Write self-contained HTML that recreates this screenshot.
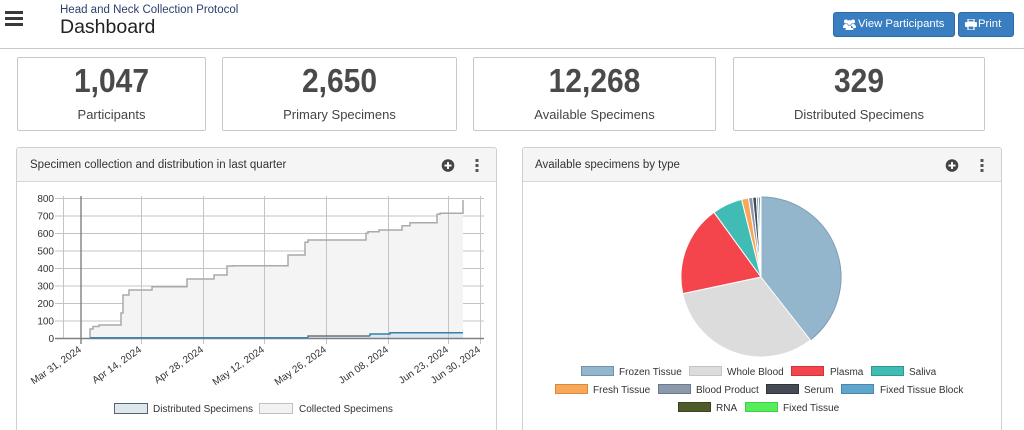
<!DOCTYPE html>
<html style="width:1024px;height:430px;overflow:hidden"><head><meta charset="utf-8"><style>
*{margin:0;padding:0;box-sizing:border-box}
body{width:1024px;height:430px;overflow:hidden;background:#fff;font-family:"Liberation Sans",Arial,sans-serif;position:relative;color:#333}
.abs{position:absolute}
.ham{position:absolute;left:5px;width:18px;height:3px;background:#3a3a3a}
.proto{left:60px;top:4px;font-size:11.5px;color:#2c3e6b;white-space:nowrap}
.dash{left:60px;top:16px;font-size:19.5px;color:#222;white-space:nowrap}
.hr{left:0;top:48px;width:1024px;height:1px;background:#c8c8c8}
.btn{position:absolute;top:12px;height:25px;background:#3a7ec2;border:1px solid #2d6aa6;border-radius:3px;color:#fff;font-size:11.3px;line-height:23px;white-space:nowrap}
.stat{position:absolute;top:57px;height:74px;border:1px solid #c9c9c9;border-radius:2px;text-align:center;background:#fff}
.stat .n{position:absolute;left:0;right:0;top:7px;font-size:30px;font-weight:bold;color:#4a4a4a;line-height:34px;transform:scaleY(1.12)}
.stat .l{position:absolute;left:0;right:0;top:49px;font-size:13px;color:#444;line-height:16px}
.panel{position:absolute;top:147px;height:290px;border:1px solid #cfcfcf;border-radius:3px;background:#fff}
.ph{position:absolute;left:0;right:0;top:0;height:34px;background:#f5f5f5;border-bottom:1px solid #d6d6d6;border-radius:3px 3px 0 0}
.pt{position:absolute;top:11px;font-size:11.5px;color:#333;white-space:nowrap}
</style></head><body>
<div class="ham" style="top:11px"></div>
<div class="ham" style="top:17px"></div>
<div class="ham" style="top:23px"></div>
<div class="abs proto">Head and Neck Collection Protocol</div>
<div class="abs dash">Dashboard</div>
<div class="abs hr"></div>

<div class="btn" style="left:833px;width:122px;padding-left:10px">
<svg width="13" height="11" viewBox="0 0 13 11" style="position:absolute;left:9px;top:6px"><circle cx="3" cy="2.5" r="2" fill="#fff"/><circle cx="10" cy="2.5" r="2" fill="#fff"/><circle cx="6.5" cy="3.5" r="2.4" fill="#fff"/><path d="M0 9 Q0 5 3 5 Q5 5 5 7 L5 9Z M13 9 Q13 5 10 5 Q8 5 8 7 L8 9Z M2.5 11 Q2.5 6.5 6.5 6.5 Q10.5 6.5 10.5 11Z" fill="#fff"/></svg>
<span style="position:absolute;left:24px">View Participants</span></div>
<div class="btn" style="left:958px;width:56px">
<svg width="12" height="11" viewBox="0 0 12 11" style="position:absolute;left:6px;top:6px"><rect x="3" y="0" width="6" height="3" fill="none" stroke="#fff" stroke-width="1.2"/><rect x="0" y="3" width="12" height="5" rx="1" fill="#fff"/><rect x="3" y="7" width="6" height="4" fill="#3a7ec2" stroke="#fff" stroke-width="1.2"/></svg>
<span style="position:absolute;left:19px">Print</span></div>

<div class="stat" style="left:17px;width:189px"><div class="n">1,047</div><div class="l">Participants</div></div>
<div class="stat" style="left:222px;width:235px"><div class="n">2,650</div><div class="l">Primary Specimens</div></div>
<div class="stat" style="left:473px;width:243px"><div class="n">12,268</div><div class="l">Available Specimens</div></div>
<div class="stat" style="left:733px;width:252px"><div class="n">329</div><div class="l">Distributed Specimens</div></div>

<div class="panel" style="left:16px;width:481px"><div class="ph"><div class="pt" style="left:13px">Specimen collection and distribution in last quarter</div></div></div>
<div class="panel" style="left:522px;width:480px"><div class="ph"><div class="pt" style="left:12px">Available specimens by type</div></div></div>

<svg class="abs" style="left:0;top:0" width="1024" height="430" viewBox="0 0 1024 430" font-family="Liberation Sans, Arial, sans-serif">
<circle cx="448" cy="165.5" r="6.3" fill="#444"/>
<rect x="444.5" y="164.6" width="7" height="1.9" fill="#fff"/><rect x="447.05" y="162" width="1.9" height="7" fill="#fff"/>
<rect x="475.5" y="159" width="3" height="3" fill="#555"/><rect x="475.5" y="164" width="3" height="3" fill="#555"/><rect x="475.5" y="169" width="3" height="3" fill="#555"/>
<circle cx="952" cy="165.5" r="6.3" fill="#444"/>
<rect x="948.5" y="164.6" width="7" height="1.9" fill="#fff"/><rect x="951.05" y="162" width="1.9" height="7" fill="#fff"/>
<rect x="980.5" y="159" width="3" height="3" fill="#555"/><rect x="980.5" y="164" width="3" height="3" fill="#555"/><rect x="980.5" y="169" width="3" height="3" fill="#555"/>

<g stroke="#c4c4c4" stroke-width="1">
<line x1="55" y1="198.5" x2="484" y2="198.5"/>
<line x1="55" y1="216" x2="484" y2="216"/>
<line x1="55" y1="233.5" x2="484" y2="233.5"/>
<line x1="55" y1="251" x2="484" y2="251"/>
<line x1="55" y1="268.5" x2="484" y2="268.5"/>
<line x1="55" y1="286" x2="484" y2="286"/>
<line x1="55" y1="303.5" x2="484" y2="303.5"/>
<line x1="55" y1="321" x2="484" y2="321"/>
</g>
<path d="M90,338.5 V329 H93 V326.5 H99 V325 H121 V313 H123 V295 H129 V290 H152 V286.7 H187 V279 H214 V275 H227 V266 H233 V265.7 H288 V255 H305 V242.3 H308 V240 H366 V233.3 H368 V231.7 H379 V230 H402 V225.7 H410 V222.7 H437 V214.3 H440 V213.3 H463 V200 V338.5 Z" fill="#f4f4f4"/>
<path d="M90,338 H308 V336 H370 V334 H390 V332.7 H463 V338.5 H90Z" fill="#dce9f1"/>
<g stroke="#c4c4c4" stroke-width="1">
<line x1="63.5" y1="196" x2="63.5" y2="338"/>
<line x1="141.5" y1="196" x2="141.5" y2="344"/>
<line x1="203.5" y1="196" x2="203.5" y2="344"/>
<line x1="264.5" y1="196" x2="264.5" y2="344"/>
<line x1="326.5" y1="196" x2="326.5" y2="344"/>
<line x1="388.5" y1="196" x2="388.5" y2="344"/>
<line x1="448.5" y1="196" x2="448.5" y2="344"/>
<line x1="480.5" y1="196" x2="480.5" y2="344"/>
</g>
<line x1="81" y1="196" x2="81" y2="344" stroke="#777" stroke-width="1.3"/>
<path d="M90,338.5 V329 H93 V326.5 H99 V325 H121 V313 H123 V295 H129 V290 H152 V286.7 H187 V279 H214 V275 H227 V266 H233 V265.7 H288 V255 H305 V242.3 H308 V240 H366 V233.3 H368 V231.7 H379 V230 H402 V225.7 H410 V222.7 H437 V214.3 H440 V213.3 H463 V200" fill="none" stroke="#aaa" stroke-width="1.5"/>
<line x1="55" y1="338.5" x2="484" y2="338.5" stroke="#808080" stroke-width="1.5"/>
<path d="M90,337.8 H308" fill="none" stroke="#3f86b4" stroke-width="1.5"/>
<path d="M308,337.8 V336 H370" fill="none" stroke="#66757e" stroke-width="1.5"/>
<path d="M370,336 V334 H390 V332.8 H463" fill="none" stroke="#3a7fa8" stroke-width="1.5"/>
<g font-size="10" fill="#333" text-anchor="end">
<text x="54" y="202">800</text>
<text x="54" y="219.5">700</text>
<text x="54" y="237">600</text>
<text x="54" y="254.5">500</text>
<text x="54" y="272">400</text>
<text x="54" y="289.5">300</text>
<text x="54" y="307">200</text>
<text x="54" y="324.5">100</text>
<text x="54" y="342">0</text>
</g>
<g font-size="10" fill="#333" text-anchor="end">
<text transform="translate(82,351) rotate(-35)">Mar 31, 2024</text>
<text transform="translate(142,351) rotate(-35)">Apr 14, 2024</text>
<text transform="translate(204,351) rotate(-35)">Apr 28, 2024</text>
<text transform="translate(265,351) rotate(-35)">May 12, 2024</text>
<text transform="translate(327,351) rotate(-35)">May 26, 2024</text>
<text transform="translate(389,351) rotate(-35)">Jun 08, 2024</text>
<text transform="translate(449,351) rotate(-35)">Jun 23, 2024</text>
<text transform="translate(481,351) rotate(-35)">Jun 30, 2024</text>
</g>
<rect x="114.5" y="403.5" width="33" height="10" fill="#dde8ee" stroke="#56646c" stroke-width="1"/>
<text x="153" y="412" font-size="10" fill="#333">Distributed Specimens</text>
<rect x="259.5" y="403.5" width="33" height="10" fill="#f2f2f2" stroke="#c0c0c0" stroke-width="1"/>
<text x="299" y="412" font-size="10" fill="#333">Collected Specimens</text>

<g stroke="#fff" stroke-width="1">
<path d="M761,277 L761,197 A80,80 0 0 1 810.3,340 Z" fill="#93b6cd" stroke="#7d9db2"/>
<path d="M761,277 L810.3,340 A80,80 0 0 1 682.7,293.6 Z" fill="#dcdcdc"/>
<path d="M761,277 L682.7,293.6 A80,80 0 0 1 714,212.3 Z" fill="#f4444c"/>
<path d="M761,277 L714,212.3 A80,80 0 0 1 741.6,199.4 Z" fill="#40bcb5"/>
<path d="M761,277 L741.6,199.4 A80,80 0 0 1 748.5,198 Z" fill="#f9a758"/>
<path d="M761,277 L748.5,198 A80,80 0 0 1 752.6,197.4 Z" fill="#8c98ab"/>
<path d="M761,277 L752.6,197.4 A80,80 0 0 1 756.4,197.1 Z" fill="#444b57"/>
<path d="M761,277 L756.4,197.1 A80,80 0 0 1 758.4,197 Z" fill="#5fa6cf"/>
<path d="M761,277 L758.4,197 A80,80 0 0 1 760.1,197 Z" fill="#2f3540"/>
<path d="M761,277 L760.1,197 A80,80 0 0 1 761,197 Z" fill="#55ee5a"/>
</g>
<g font-size="10" fill="#333">
<rect x="581.5" y="366.5" width="32" height="9" fill="#93b6cd" stroke="#6f93ab"/><text x="619" y="375">Frozen Tissue</text>
<rect x="689.5" y="366.5" width="32" height="9" fill="#dcdcdc" stroke="#c4c4c4"/><text x="727" y="375">Whole Blood</text>
<rect x="791.5" y="366.5" width="32" height="9" fill="#f4444c" stroke="#c9353c"/><text x="830" y="375">Plasma</text>
<rect x="871.5" y="366.5" width="32" height="9" fill="#40bcb5" stroke="#30968f"/><text x="909" y="375">Saliva</text>
<rect x="555.5" y="384.5" width="32" height="9" fill="#f9a758" stroke="#d98a40"/><text x="593" y="393">Fresh Tissue</text>
<rect x="658.5" y="384.5" width="32" height="9" fill="#8c98ab" stroke="#6d7889"/><text x="696" y="393">Blood Product</text>
<rect x="766.5" y="384.5" width="32" height="9" fill="#444b57" stroke="#333"/><text x="804" y="393">Serum</text>
<rect x="841.5" y="384.5" width="32" height="9" fill="#5fa6cf" stroke="#4a87ab"/><text x="880" y="393">Fixed Tissue Block</text>
<rect x="678.5" y="402.5" width="32" height="9" fill="#4f5a2b" stroke="#3b4420"/><text x="716" y="411">RNA</text>
<rect x="745.5" y="402.5" width="32" height="9" fill="#55ee5a" stroke="#3fcf45"/><text x="783" y="411">Fixed Tissue</text>
</g>
</svg>
</body></html>
